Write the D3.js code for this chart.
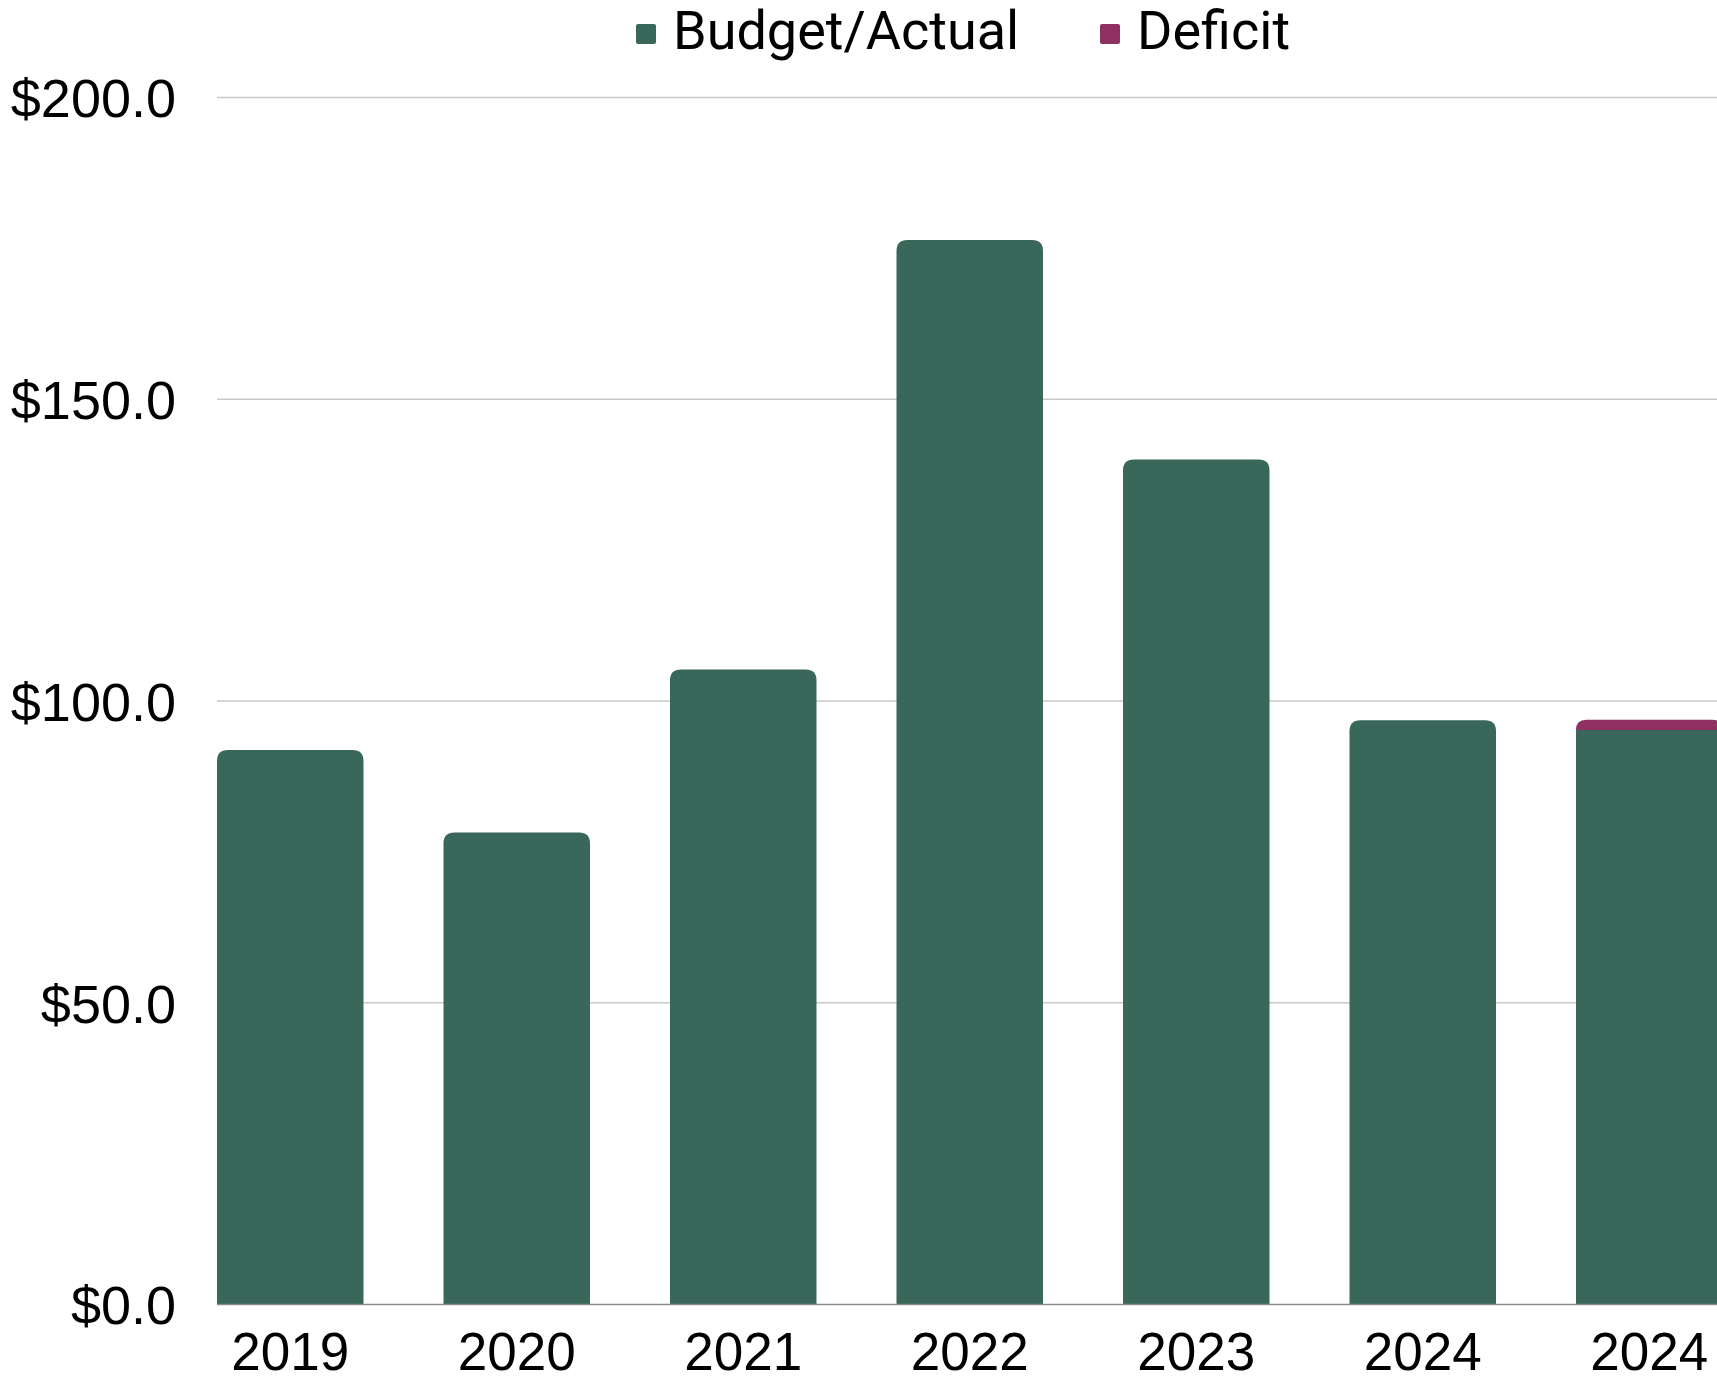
<!DOCTYPE html>
<html>
<head>
<meta charset="utf-8">
<script src="https://cdn.jsdelivr.net/npm/d3@7"></script>
<style>
  html, body { margin: 0; padding: 0; background: #fff; }
  svg { display: block; }
</style>
</head>
<body>
<svg id="chart" width="1717" height="1383"></svg>
<script>
const years = ["2019", "2020", "2021", "2022", "2023", "2024", "2024 "];
const budgetActual = [91.9, 78.2, 105.2, 176.4, 140.0, 96.8, 95.2];
const deficit = [0, 0, 0, 0, 0, 0, 1.7];
const yTicks = [0, 50, 100, 150, 200];
const seriesNames = ["Budget/Actual", "Deficit"];
const colors = ["#396759", "#8E3060"];

const svg = d3.select("#chart");
const width = +svg.attr("width");

const step = 226.5;
const gap = 80;
const left = 217 - gap / 2;
const x = d3.scaleBand()
  .domain(years)
  .range([left, left + years.length * step])
  .paddingInner(gap / step)
  .paddingOuter(gap / step / 2);
const y = d3.scaleLinear().domain([0, 200]).range([1304.5, 97.5]);

// gridlines
svg.append("g").selectAll("line")
  .data(yTicks.filter(d => d > 0))
  .join("line")
  .attr("x1", 217).attr("x2", width)
  .attr("y1", d => y(d)).attr("y2", d => y(d))
  .attr("stroke", "#c9c9c9").attr("stroke-width", 1.5);

// top-rounded bar path
const topRounded = (x0, y0, w, h, r) => {
  r = Math.min(r, h, w / 2);
  return `M${x0},${y0 + h}V${y0 + r}Q${x0},${y0} ${x0 + r},${y0}` +
    `H${x0 + w - r}Q${x0 + w},${y0} ${x0 + w},${y0 + r}V${y0 + h}Z`;
};

const stacked = years.map((yr, i) => ({ yr, a: budgetActual[i], d: deficit[i] }));

svg.append("g").selectAll("path")
  .data(stacked)
  .join("path")
  .attr("fill", colors[0])
  .attr("d", s => {
    const top = y(s.a), h = y(0) - top;
    return topRounded(x(s.yr), top, x.bandwidth(), h, s.d > 0 ? 0 : 11);
  });

svg.append("g").selectAll("path")
  .data(stacked.filter(s => s.d > 0))
  .join("path")
  .attr("fill", colors[1])
  .attr("d", s => {
    const top = y(s.a + s.d), h = y(s.a) - top;
    return topRounded(x(s.yr), top, x.bandwidth(), h, 11);
  });

// baseline
svg.append("line")
  .attr("x1", 217).attr("x2", width)
  .attr("y1", y(0)).attr("y2", y(0))
  .attr("stroke", "#8c8c8c").attr("stroke-width", 1.5);

// y tick labels
svg.append("g").selectAll("text")
  .data(yTicks)
  .join("text")
  .attr("x", 176)
  .attr("y", d => y(d))
  .attr("dy", "0.37em")
  .attr("text-anchor", "end")
  .attr("font-family", "Liberation Sans, Arial, sans-serif")
  .attr("font-size", 54)
  .attr("fill", "#000")
  .text(d => "$" + d3.format(".1f")(d));

// x labels
svg.append("g").selectAll("text")
  .data(years)
  .join("text")
  .attr("x", d => x(d) + x.bandwidth() / 2)
  .attr("y", 1370)
  .attr("text-anchor", "middle")
  .attr("font-family", "Liberation Sans, Arial, sans-serif")
  .attr("font-size", 53)
  .attr("fill", "#000")
  .text(d => d.trim());

// legend
const legendX = [636, 1100];
const legend = svg.append("g").selectAll("g")
  .data(seriesNames)
  .join("g")
  .attr("transform", (d, i) => `translate(${legendX[i]},0)`);
legend.append("rect")
  .attr("x", 0).attr("y", 24).attr("width", 20).attr("height", 20).attr("rx", 2)
  .attr("fill", (d, i) => colors[i]);
legend.append("text")
  .attr("x", 37).attr("y", 49)
  .attr("font-family", "Roboto, sans-serif")
  .attr("font-size", 54)
  .attr("fill", "#000")
  .text(d => d);
</script>
</body>
</html>
